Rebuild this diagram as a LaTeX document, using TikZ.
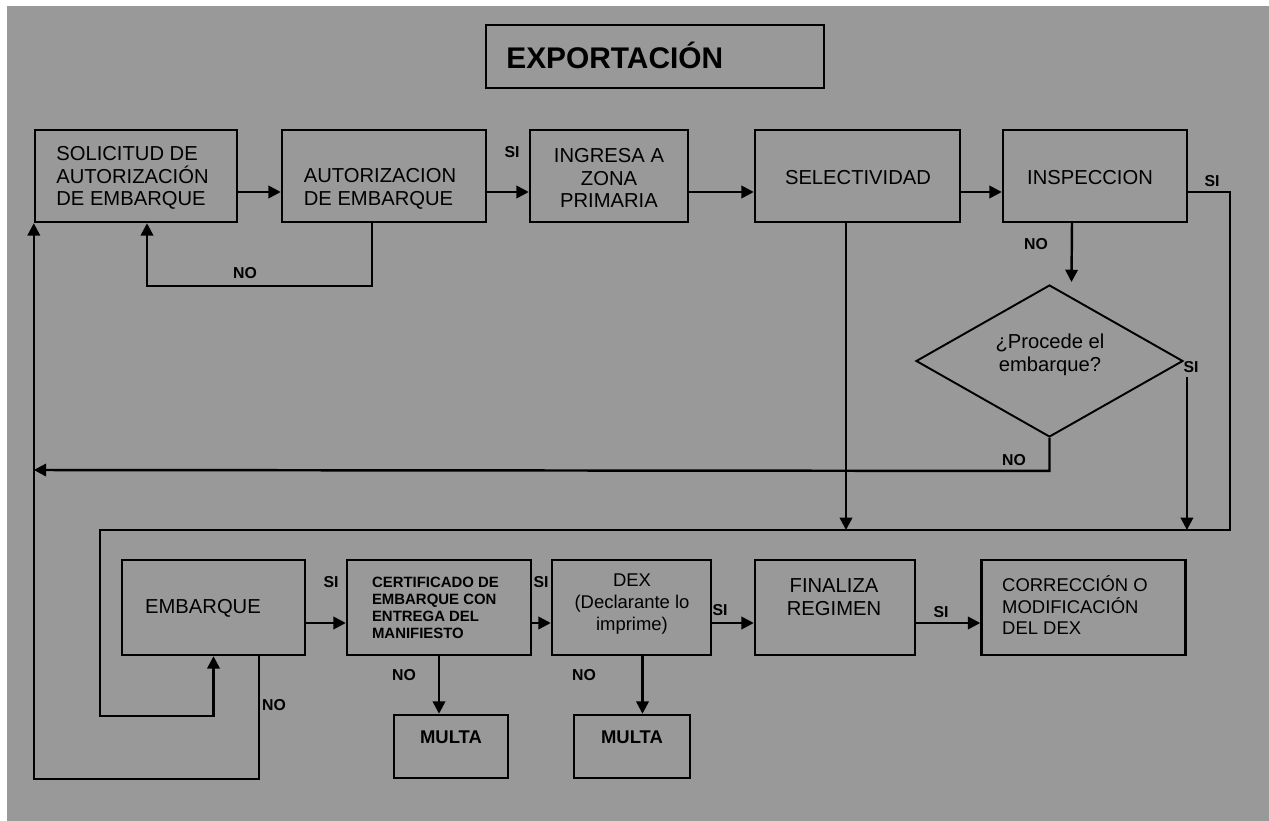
\documentclass[tikz,border=0pt]{standalone}
\usepackage{fontspec}
\setmainfont{Liberation Sans}
\usetikzlibrary{arrows.meta,shapes.geometric}
\definecolor{fondo}{HTML}{999999}

\begin{document}
\begin{tikzpicture}[x=0.02cm,y=-0.02cm,
	caja/.style={draw,line width=1.4pt,minimum height=1.84cm,inner sep=0pt},
	caja2/.style={draw,line width=1.4pt,minimum height=1.9cm,inner sep=0pt},
	texto/.style={font=\fontsize{11.5}{12.8}\selectfont,align=center,inner sep=0pt},
	etiq/.style={font=\fontsize{9}{10}\selectfont\bfseries,inner sep=0pt},
	flecha/.style={line width=1.4pt,-{Triangle[length=7pt,width=7pt]}}]
\fill[white] (0,0) rectangle (1269,821);
\fill[fondo] (7,6) rectangle (1269,821);
\useasboundingbox (0,0) rectangle (1269,821);

% titulo
\node[draw,line width=1.4pt,minimum width=6.76cm,minimum height=1.26cm] (titulo) at (655,56.5) {};
\node[font=\fontsize{17}{20}\selectfont\bfseries,anchor=west,inner sep=0pt] (t-titulo) at (506,55) {EXPORTACIÓN};

% primera fila
\node[caja,minimum width=4.04cm] (sol) at (136,176) {};
\node[caja,minimum width=4.08cm] (aut) at (384,176) {};
\node[caja,minimum width=3.16cm] (ing) at (609,176) {};
\node[caja,minimum width=4.10cm] (sel) at (857.5,176) {};
\node[caja,minimum width=3.68cm] (insp) at (1095,176) {};
\node[texto,align=left] (t-sol) at (132.5,178) {SOLICITUD DE\\AUTORIZACIÓN\\DE EMBARQUE};
\node[texto,align=left] (t-aut) at (380,189) {AUTORIZACION\\DE EMBARQUE};
\node[texto] (t-ing) at (609,178) {INGRESA A\\ZONA\\PRIMARIA};
\node[texto] (t-sel) at (858,178) {SELECTIVIDAD};
\node[texto] (t-insp) at (1090,178) {INSPECCION};

% decision
\node[diamond,draw,line width=1.1pt,minimum width=5.34cm,minimum height=3.04cm,inner sep=0pt] (dia) at (1049.5,361) {};
\node[texto] (t-dia) at (1050,355) {¿Procede el\\embarque?};

% segunda fila
\node[caja2,minimum width=3.66cm] (emb) at (213.5,607.5) {};
\node[caja2,minimum width=3.68cm] (cert) at (439,607.5) {};
\node[caja2,minimum width=3.18cm] (dex) at (631.5,607.5) {};
\node[caja2,minimum width=3.20cm] (fin) at (835,607.5) {};
\node[caja2,minimum width=4.08cm] (corr) at (1083.5,607.5) {};
\node[caja,minimum width=2.28cm,minimum height=1.26cm] (multa1) at (451,746.5) {};
\node[caja,minimum width=2.32cm,minimum height=1.26cm] (multa2) at (632,746.5) {};
\node[texto] (t-emb) at (203,608) {EMBARQUE};
\node[font=\fontsize{8.5}{9.8}\selectfont\bfseries,align=left,inner sep=0pt] (t-cert) at (435.5,608) {CERTIFICADO DE\\EMBARQUE CON\\ENTREGA DEL\\MANIFIESTO};
\node[texto,font=\fontsize{10.5}{12.5}\selectfont] (t-dex) at (632,604) {DEX\\(Declarante lo\\imprime)};
\node[texto] (t-fin) at (834,597) {FINALIZA\\REGIMEN};
\node[texto,align=left,font=\fontsize{10.5}{12.2}\selectfont] (t-corr) at (1075,605) {CORRECCIÓN O\\MODIFICACIÓN\\DEL DEX};
\node[etiq,font=\fontsize{10.5}{12}\selectfont\bfseries] (t-multa1) at (451,737) {MULTA};
\node[etiq,font=\fontsize{10.5}{12}\selectfont\bfseries] (t-multa2) at (632,737) {MULTA};

% etiquetas
\node[etiq] (si1) at (512,152) {SI};
\node[etiq] (no1) at (245,273) {NO};
\node[etiq] (si2) at (1212,181) {SI};
\node[etiq] (no2) at (1036,244) {NO};
\node[etiq] (si3) at (1191,367) {SI};
\node[etiq] (no3) at (1014,460) {NO};
\node[etiq] (si4) at (331,582) {SI};
\node[etiq] (si5) at (541,582) {SI};
\node[etiq] (si6) at (720,610) {SI};
\node[etiq] (si7) at (941,612) {SI};
\node[etiq] (no4) at (404,675) {NO};
\node[etiq] (no5) at (584,675) {NO};
\node[etiq] (no6) at (274,705) {NO};

\coordinate (f1) at (0,192);
\coordinate (f2) at (0,623);
\coordinate (bus) at (0,530);
\coordinate (nr) at (0,470);

% flechas primera fila
\draw[flecha] (sol.east |- f1) -- (aut.west |- f1);
\draw[flecha] (aut.east |- f1) -- (ing.west |- f1);
\draw[flecha] (ing.east |- f1) -- (sel.west |- f1);
\draw[flecha] (sel.east |- f1) -- (insp.west |- f1);
\draw[flecha] ([shift={(-12,0)}]aut.south) -- ++(0,63) -| ([shift={(11,0)}]sol.south);

% retornos
\draw[flecha] (insp.east |- f1) -| (1230,530) -- (100,530) |- ([shift={(0,60)}]emb.south) -- (emb.south);
\draw[flecha] ([shift={(-23,0)}]insp.south) -- ([shift={(22,-2)}]dia.north);
\draw[flecha] ([shift={(-11.5,0)}]sel.south) -- ([shift={(-11.5,0)}]sel.south |- bus);
\draw[flecha] ([shift={(3,16)}]dia.east) -- ([shift={(3,0)}]dia.east |- bus);
\draw[flecha] (dia.south) -- ++(0,33) -- (sol.west |- nr);
\draw[flecha] ([shift={(45.5,0)}]emb.south) -- ++(0,123) -| (sol.south west);

% flechas segunda fila
\draw[flecha] (emb.east |- f2) -- (cert.west |- f2);
\draw[flecha] (cert.east |- f2) -- (dex.west |- f2);
\draw[flecha] (dex.east |- f2) -- (fin.west |- f2);
\draw[flecha] (fin.east |- f2) -- (corr.west |- f2);
\draw[flecha] (cert.south) -- (cert.south |- multa1.north);
\draw[flecha] ([shift={(11,0)}]dex.south) -- ([shift={(11,0)}]dex.south |- multa2.north);
\end{tikzpicture}
\end{document}
